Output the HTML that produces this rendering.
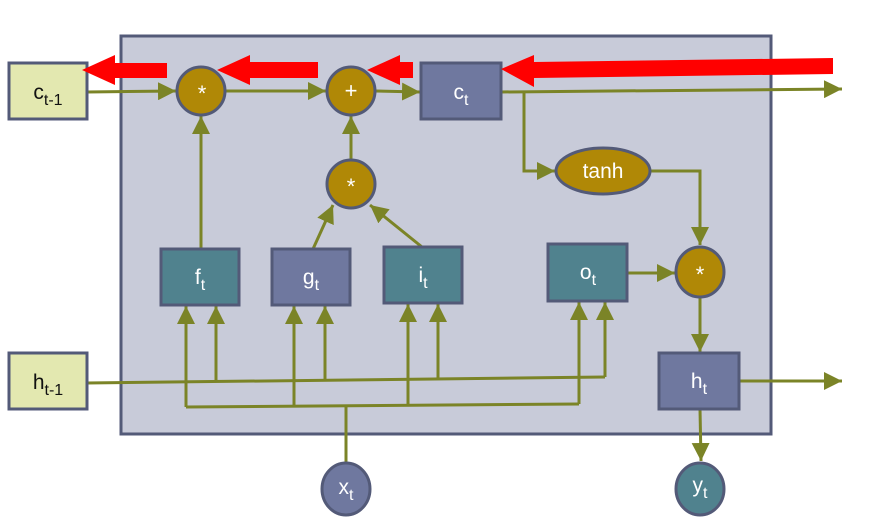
<!DOCTYPE html>
<html><head><meta charset="utf-8"><style>
html,body{margin:0;padding:0;background:#fff;width:869px;height:523px;overflow:hidden}
text{font-family:"Liberation Sans",sans-serif;fill:#fff;text-anchor:middle}
</style></head><body>
<svg width="869" height="523" viewBox="0 0 869 523" xmlns="http://www.w3.org/2000/svg">
<defs>
<marker id="a" viewBox="0 0 10 10" refX="10" refY="5" markerWidth="6" markerHeight="6" markerUnits="strokeWidth" orient="auto"><path d="M0,0L10,5L0,10z" fill="#7b8427"/></marker>
</defs>
<rect x="121" y="36" width="650" height="398" fill="#c8cbd9" stroke="#535a78" stroke-width="3"/>
<g stroke="#7b8427" stroke-width="3" fill="none">
<line x1="87" y1="92" x2="176" y2="91" marker-end="url(#a)"/>
<line x1="225" y1="91" x2="326" y2="91" marker-end="url(#a)"/>
<line x1="375" y1="91" x2="420" y2="92" marker-end="url(#a)"/>
<line x1="501" y1="92" x2="842" y2="89" marker-end="url(#a)"/>
<polyline points="524,92 524,171 555,171" marker-end="url(#a)"/>
<polyline points="650,171 700,171 700,245" marker-end="url(#a)"/>
<line x1="627" y1="273" x2="675" y2="273" marker-end="url(#a)"/>
<line x1="700" y1="298" x2="700" y2="352" marker-end="url(#a)"/>
<line x1="739" y1="381" x2="842" y2="381" marker-end="url(#a)"/>
<line x1="700" y1="409" x2="701" y2="461" marker-end="url(#a)"/>
<line x1="201" y1="249" x2="201" y2="116" marker-end="url(#a)"/>
<line x1="351" y1="160" x2="351" y2="116" marker-end="url(#a)"/>
<line x1="313" y1="249" x2="333" y2="205" marker-end="url(#a)"/>
<line x1="422" y1="247" x2="370" y2="205" marker-end="url(#a)"/>
<polyline points="87,383 605,377"/>
<line x1="605" y1="377" x2="605" y2="302" marker-end="url(#a)"/>
<line x1="216" y1="381" x2="216" y2="306" marker-end="url(#a)"/>
<line x1="325" y1="380" x2="325" y2="306" marker-end="url(#a)"/>
<line x1="438" y1="379" x2="438" y2="304" marker-end="url(#a)"/>
<polyline points="186,407 579,404"/>
<line x1="346" y1="463" x2="346" y2="406"/>
<line x1="186" y1="407" x2="186" y2="306" marker-end="url(#a)"/>
<line x1="294" y1="406" x2="294" y2="306" marker-end="url(#a)"/>
<line x1="408" y1="405" x2="408" y2="304" marker-end="url(#a)"/>
<line x1="579" y1="404" x2="579" y2="302" marker-end="url(#a)"/>
</g>
<g stroke="#535a78" stroke-width="3">
<rect x="9" y="63" width="78" height="56" fill="#e3e8b0"/>
<rect x="9" y="353" width="78" height="56" fill="#e3e8b0"/>
<rect x="421" y="63" width="80" height="56" fill="#6f789f"/>
<rect x="161" y="249" width="78" height="56" fill="#50828e"/>
<rect x="272" y="249" width="78" height="56" fill="#6f789f"/>
<rect x="384" y="247" width="78" height="56" fill="#50828e"/>
<rect x="548" y="244" width="79" height="57" fill="#50828e"/>
<rect x="659" y="353" width="80" height="56" fill="#6f789f"/>
<circle cx="201" cy="91" r="24" fill="#b08806"/>
<circle cx="351" cy="91" r="24" fill="#b08806"/>
<circle cx="351" cy="184" r="24" fill="#b08806"/>
<ellipse cx="603" cy="171" rx="47" ry="23" fill="#b08806"/>
<ellipse cx="700" cy="272" rx="24" ry="25" fill="#b08806"/>
<ellipse cx="346" cy="489" rx="24" ry="26" fill="#6f789f"/>
<ellipse cx="700" cy="489" rx="24" ry="26" fill="#50828e"/>
</g>
<g fill="#ff0000">
<path d="M167,63 L115,63 L115,55 L82,70 L115,85 L115,78 L167,78z"/>
<path d="M318,62 L250,62 L250,55 L217,70 L250,85 L250,78 L318,78z"/>
<path d="M413,62 L400,62 L400,55 L367,70 L400,85 L400,78 L413,78z"/>
<path d="M833,58 L534,62 L534,55 L501,69 L534,87 L534,78 L833,74z"/>
</g>
<text x="48" y="99" font-size="21" style="fill:#111">c<tspan font-size="16" dy="6">t-1</tspan></text>
<text x="48" y="389" font-size="21" style="fill:#111">h<tspan font-size="16" dy="6">t-1</tspan></text>
<text x="461" y="99" font-size="21">c<tspan font-size="16" dy="6">t</tspan></text>
<text x="200" y="284" font-size="21">f<tspan font-size="16" dy="6">t</tspan></text>
<text x="311" y="284" font-size="21">g<tspan font-size="16" dy="6">t</tspan></text>
<text x="423" y="282" font-size="21">i<tspan font-size="16" dy="6">t</tspan></text>
<text x="588" y="279" font-size="21">o<tspan font-size="16" dy="6">t</tspan></text>
<text x="699" y="388" font-size="21">h<tspan font-size="16" dy="6">t</tspan></text>
<text x="346" y="494" font-size="21">x<tspan font-size="16" dy="6">t</tspan></text>
<text x="700" y="492" font-size="21">y<tspan font-size="16" dy="6">t</tspan></text>
<text x="603" y="178" font-size="21">tanh</text>
<text x="202" y="101" font-size="22">*</text>
<text x="351" y="98" font-size="22">+</text>
<text x="351" y="194" font-size="22">*</text>
<text x="700" y="282" font-size="22">*</text>
</svg>
</body></html>
